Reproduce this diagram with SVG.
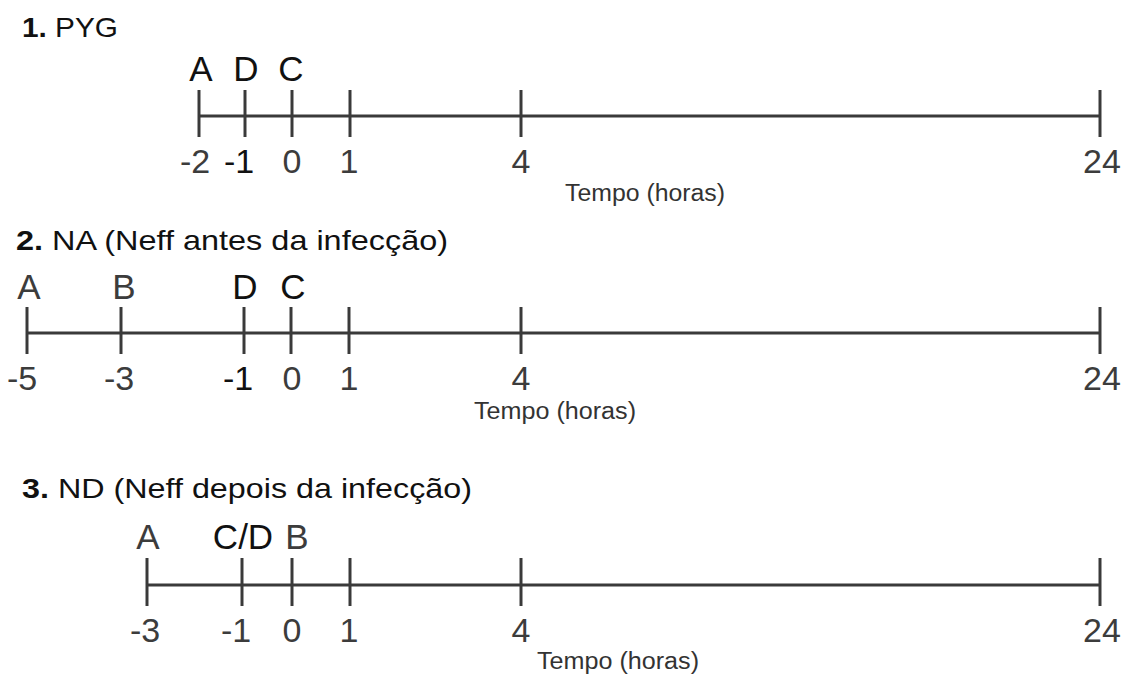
<svg xmlns="http://www.w3.org/2000/svg" width="1123" height="675" viewBox="0 0 1123 675">
  <style>
    .axis { stroke: #3a3a3a; stroke-width: 3; fill: none; }
    .tick { stroke: #3a3a3a; stroke-width: 3; }
    .title { font-family: "Liberation Sans", Arial, sans-serif; font-size: 28px; fill: #111; }
    .title .num { font-weight: bold; }
    .ev { font-family: "Liberation Sans", Arial, sans-serif; font-size: 35px; fill: #111; text-anchor: middle; }
    .ev.soft { fill: #3c3c3c; }
    .hr { font-family: "Liberation Sans", Arial, sans-serif; font-size: 34px; fill: #3c3c3c; text-anchor: middle; }
    .hr.dark { fill: #111; }
    .unit { font-family: "Liberation Sans", Arial, sans-serif; font-size: 23px; fill: #333; }
  </style>
  <rect width="1123" height="675" fill="#ffffff"/>

  <!-- Timeline 1: PYG -->
  <g id="timeline-pyg">
    <text class="title" x="22" y="37" textLength="96" lengthAdjust="spacingAndGlyphs"><tspan class="num">1.</tspan> PYG</text>
    <line class="axis" x1="199" y1="116" x2="1100" y2="116"/>
    <line class="tick" x1="199" y1="90" x2="199" y2="137"/>
    <line class="tick" x1="245" y1="90" x2="245" y2="137"/>
    <line class="tick" x1="292" y1="90" x2="292" y2="137"/>
    <line class="tick" x1="350" y1="90" x2="350" y2="137"/>
    <line class="tick" x1="521" y1="90" x2="521" y2="137"/>
    <line class="tick" x1="1100" y1="90" x2="1100" y2="137"/>
    <text class="ev" x="201" y="81">A</text>
    <text class="ev" x="246" y="81">D</text>
    <text class="ev" x="291" y="81">C</text>
    <text class="hr" x="195" y="173">-2</text>
    <text class="hr dark" x="239" y="173">-1</text>
    <text class="hr" x="292" y="173">0</text>
    <text class="hr" x="349" y="173">1</text>
    <text class="hr" x="521" y="173">4</text>
    <text class="hr" x="1102" y="173">24</text>
    <text class="unit" x="565" y="201" textLength="160" lengthAdjust="spacingAndGlyphs">Tempo (horas)</text>
  </g>

  <!-- Timeline 2: NA -->
  <g id="timeline-na">
    <text class="title" x="16" y="250" textLength="432" lengthAdjust="spacingAndGlyphs"><tspan class="num">2.</tspan> NA (Neff antes da infecção)</text>
    <line class="axis" x1="27" y1="333" x2="1100" y2="333"/>
    <line class="tick" x1="27" y1="307" x2="27" y2="354"/>
    <line class="tick" x1="121" y1="307" x2="121" y2="354"/>
    <line class="tick" x1="244" y1="307" x2="244" y2="354"/>
    <line class="tick" x1="291" y1="307" x2="291" y2="354"/>
    <line class="tick" x1="349" y1="307" x2="349" y2="354"/>
    <line class="tick" x1="521" y1="307" x2="521" y2="354"/>
    <line class="tick" x1="1100" y1="307" x2="1100" y2="354"/>
    <text class="ev soft" x="29" y="299">A</text>
    <text class="ev soft" x="124" y="299">B</text>
    <text class="ev" x="245" y="299">D</text>
    <text class="ev" x="293" y="299">C</text>
    <text class="hr" x="22" y="390">-5</text>
    <text class="hr" x="119" y="390">-3</text>
    <text class="hr dark" x="238" y="390">-1</text>
    <text class="hr" x="292" y="390">0</text>
    <text class="hr" x="349" y="390">1</text>
    <text class="hr" x="521" y="390">4</text>
    <text class="hr" x="1102" y="390">24</text>
    <text class="unit" x="474" y="419" textLength="162" lengthAdjust="spacingAndGlyphs">Tempo (horas)</text>
  </g>

  <!-- Timeline 3: ND -->
  <g id="timeline-nd">
    <text class="title" x="22" y="498" textLength="450" lengthAdjust="spacingAndGlyphs"><tspan class="num">3.</tspan> ND (Neff depois da infecção)</text>
    <line class="axis" x1="147" y1="585" x2="1100" y2="585"/>
    <line class="tick" x1="147" y1="558" x2="147" y2="606"/>
    <line class="tick" x1="242" y1="558" x2="242" y2="606"/>
    <line class="tick" x1="292" y1="558" x2="292" y2="606"/>
    <line class="tick" x1="350" y1="558" x2="350" y2="606"/>
    <line class="tick" x1="521" y1="558" x2="521" y2="606"/>
    <line class="tick" x1="1100" y1="558" x2="1100" y2="606"/>
    <text class="ev soft" x="148" y="549">A</text>
    <text class="ev" x="243" y="549">C/D</text>
    <text class="ev soft" x="297" y="549">B</text>
    <text class="hr" x="145" y="642">-3</text>
    <text class="hr" x="236" y="642">-1</text>
    <text class="hr" x="292" y="642">0</text>
    <text class="hr" x="349" y="642">1</text>
    <text class="hr" x="521" y="642">4</text>
    <text class="hr" x="1102" y="642">24</text>
    <text class="unit" x="537" y="669" textLength="162" lengthAdjust="spacingAndGlyphs">Tempo (horas)</text>
  </g>
</svg>
